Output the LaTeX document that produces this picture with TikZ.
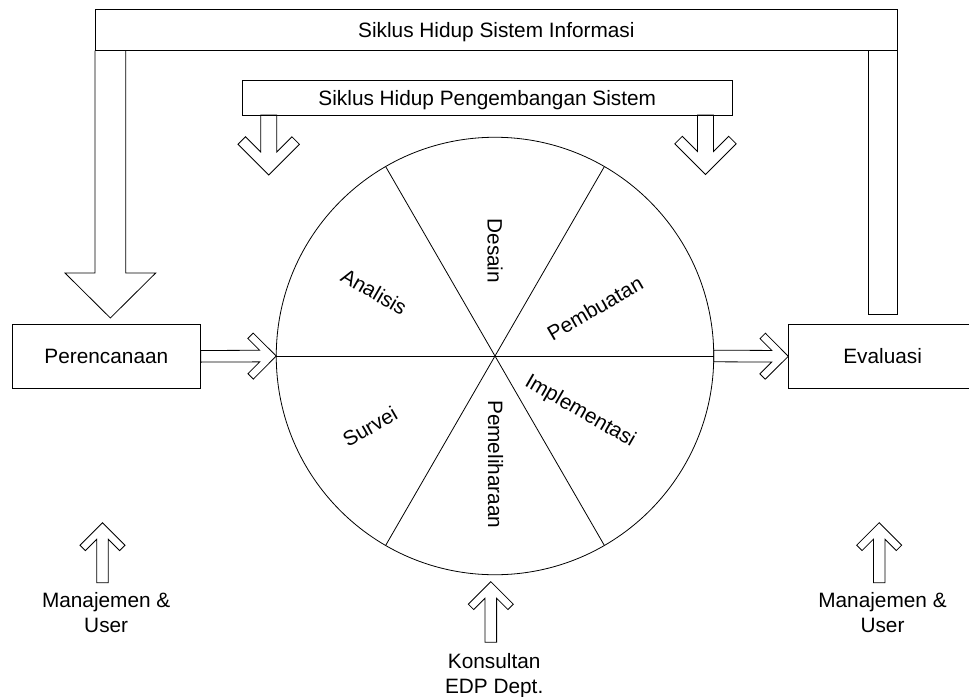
\documentclass[tikz,border=0pt]{standalone}
\usepackage{fontspec}
\setmainfont{Liberation Sans}
\usetikzlibrary{calc}

% open block arrow: tail, tip, half shaft width, head thickness, wing
\newcommand{\openarrow}[5]{%
  \draw let \p1=(#1), \p2=(#2), \n1={atan2(\y2-\y1,\x2-\x1)} in
    (#2) -- ($(#2)+(\n1+135:{#5*sqrt(2)})$)
    -- ($(#2)+(\n1+135:{#5*sqrt(2)})+(\n1+225:#4)$)
    -- ($(#2)+(\n1+180:{#4*sqrt(2)+#3})+(\n1+90:#3)$)
    -- ($(#1)+(\n1+90:#3)$)
    -- ($(#1)+(\n1-90:#3)$)
    -- ($(#2)+(\n1+180:{#4*sqrt(2)+#3})+(\n1-90:#3)$)
    -- ($(#2)+(\n1-135:{#5*sqrt(2)})+(\n1+135:#4)$)
    -- ($(#2)+(\n1-135:{#5*sqrt(2)})$)
    -- cycle;}

\begin{document}
\begin{tikzpicture}[x=1pt,y=1pt,line width=0.8pt,
    every node/.style={font=\fontsize{20.8}{24.4}\selectfont},
    bar/.style={draw,inner sep=0pt,outer sep=0pt,text depth=0pt},
    stage/.style={inner sep=0pt},
    note/.style={align=center,inner sep=0pt,anchor=north}]
  \useasboundingbox (0,0) rectangle (969,-696);

  \node[bar,minimum width=802.7,minimum height=41] (sisinfo) at (496.35,-30) {Siklus Hidup Sistem Informasi};
  \node[bar,minimum width=490,minimum height=34.3] (sdlc) at (487.3,-97.85) {Siklus Hidup Pengembangan Sistem};
  \node[bar,minimum width=188.7,minimum height=64] (plan) at (106.35,-356.3) {Perencanaan};
  \node[bar,minimum width=188.7,minimum height=64] (eval) at (882.65,-356.3) {Evaluasi};

  \node[draw,circle,minimum size=437.5,inner sep=0pt,outer sep=0pt] (wheel) at (495,-356) {};
  \draw (wheel.west) -- (wheel.east);
  \draw (wheel.60) -- (wheel.240);
  \draw (wheel.120) -- (wheel.300);

  \node[stage,rotate=-90] (desain) at (495,-250.8) {Desain};
  \node[stage,rotate=30] (pembuatan) at (595,-308.3) {Pembuatan};
  \node[stage,rotate=-30] (implementasi) at (580,-411.7) {Implementasi};
  \node[stage,rotate=-90] (pemeliharaan) at (495.5,-464.3) {Pemeliharaan};
  \node[stage,rotate=30] (survei) at (370,-426.7) {Survei};
  \node[stage,rotate=-30] (analisis) at (374,-291.7) {Analisis};

  \node[note] (userL) at (106.2,-592.2) {Manajemen \&\\User};
  \node[note] (userR) at (882.5,-592.2) {Manajemen \&\\User};
  \node[note] (edp) at (494.2,-653.4) {Konsultan\\EDP Dept.};

  \draw (sisinfo.south east) rectangle ++(-29,-263.8);
  \draw (sisinfo.south west) -- ++(0,-222.5) -- ++(-30,0) -- ++(45.35,-45)
    -- ++(45.35,45) -- ++(-30,0) -- ++(0,222.5);

  \coordinate (sdlcL) at ($(sdlc.south west)+(26.4,0)$);
  \coordinate (sdlcLtip) at ($(sdlcL)+(0,-60)$);
  \coordinate (sdlcR) at ($(sdlc.south east)+(-26.8,0)$);
  \coordinate (sdlcRtip) at ($(sdlcR)+(0,-59.5)$);
  \openarrow{sdlcL}{sdlcLtip}{8}{10.6}{30.7}
  \openarrow{sdlcR}{sdlcRtip}{8}{10.6}{30.7}

  \openarrow{plan.east}{wheel.west}{5.8}{7.6}{23}
  \openarrow{wheel.east}{eval.west}{5.8}{7.6}{23}

  \coordinate (userLin) at ($(userL.north)+(-3.7,9.5)$);
  \coordinate (userLtip) at ($(userLin)+(0,60)$);
  \coordinate (userRin) at ($(userR.north)+(-3.3,9.5)$);
  \coordinate (userRtip) at ($(userRin)+(0,60)$);
  \coordinate (edpin) at ($(edp.north)+(-3.4,11.1)$);
  \coordinate (edptip) at ($(edpin)+(0,60.6)$);
  \openarrow{userLin}{userLtip}{5.8}{7.6}{22.5}
  \openarrow{userRin}{userRtip}{5.8}{7.6}{22.5}
  \openarrow{edpin}{edptip}{5.8}{7.6}{22.5}
\end{tikzpicture}
\end{document}
